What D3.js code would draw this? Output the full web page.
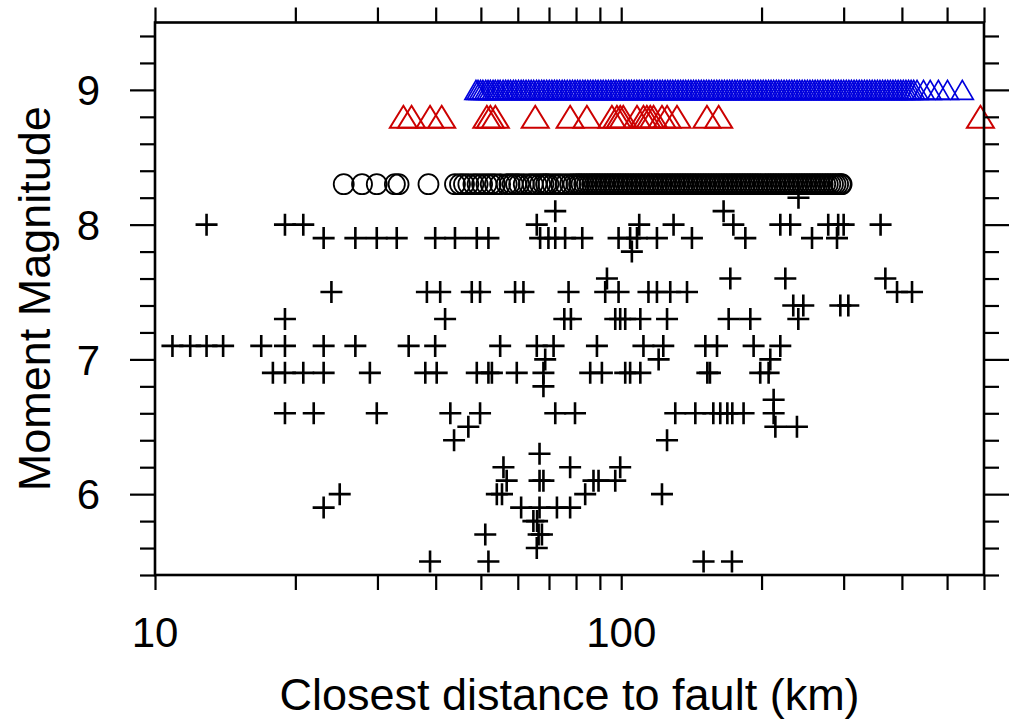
<!DOCTYPE html>
<html>
<head>
<meta charset="utf-8">
<script src="https://d3js.org/d3.v7.min.js"></script>
<style>
  body { margin: 0; background: #fff; }
  svg { display: block; font-family: "Liberation Sans", Arial, sans-serif; }
</style>
</head>
<body>
<svg width="1009" height="720"></svg>
<script>
// Distance (km) values per series
const blueDist = [48.8, 49.3, 49.9, 50.5, 51.2, 51.8, 52.4, 53.1, 53.7, 54.4, 55.0, 55.8, 56.5, 57.2,
  57.9, 58.7, 59.4, 60.2, 61.0, 61.7, 62.5, 63.3, 64.1, 64.9, 65.8, 66.6, 67.5, 68.3, 69.2, 70.1, 71.0,
  71.9, 72.8, 73.7, 74.7, 75.6, 76.6, 77.6, 78.6, 79.6, 80.6, 81.6, 82.7, 83.7, 84.8, 85.9, 87.0, 88.1,
  89.2, 90.4, 91.5, 92.7, 93.9, 95.1, 96.3, 97.5, 98.8, 100.0, 101.3, 102.6, 103.9, 105.2, 106.6, 108.0,
  109.3, 110.7, 112.2, 113.6, 115.0, 116.5, 118.0, 119.5, 121.1, 122.6, 124.2, 125.8, 127.4, 129.0,
  130.7, 132.4, 134.1, 135.8, 137.5, 139.3, 141.1, 142.9, 144.7, 146.6, 148.5, 150.4, 152.3, 154.2,
  156.2, 158.2, 160.3, 162.3, 164.4, 166.5, 168.7, 170.8, 173.0, 175.3, 177.5, 179.8, 182.1, 184.5,
  186.8, 189.2, 191.7, 194.1, 196.6, 199.2, 201.7, 204.3, 207.0, 209.6, 212.3, 215.1, 217.8, 220.6,
  223.5, 226.4, 229.3, 232.2, 235.2, 238.3, 241.3, 244.4, 247.6, 250.8, 254.0, 257.3, 260.6, 263.9,
  267.3, 270.8, 274.3, 277.8, 281.4, 285.0, 288.7, 292.4, 296.2, 300.0, 303.9, 307.8, 311.7, 315.8,
  319.8, 324.0, 328.1, 332.4, 336.7, 341.0, 345.4, 349.9, 354.4, 358.9, 363.6, 368.3, 373.0, 377.8,
  382.7, 387.6, 392.6, 397.7, 402.8, 408.0, 413.3, 418.6, 424.0, 431, 445, 460, 479, 501, 539];
const blueMag = 9.0;

const redDist = [34.1, 35.5, 38.9, 41.2, 51.5, 52.4, 53.7, 65.4, 77.7, 84.4, 95.5, 97.9, 99.5, 101,
  108.1, 111.6, 113.5, 115.4, 117.3, 122.3, 125.4, 131.7, 152.7, 161.8, 589.5];
const redMag = 8.8;

const circDist = [25.4, 27.8, 29.9, 32.7, 33.3, 38.6,
  44.0, 45.1, 46.0, 47.0, 48.2, 49.2, 50.3, 51.4, 52.5, 53.6, 55.0, 56.8, 57.6, 58.5, 59.5, 60.4, 61.8,
  63.4, 64.6, 65.8, 67.0, 68.1, 69.0, 69.8, 71.3, 72.8, 74.3, 76.0, 77.7, 79.0, 80.2, 81.2, 82.2, 83.3,
  84.4, 85.5, 86.6, 87.7, 88.8, 89.9, 91.1, 92.3, 93.5, 94.7, 95.9, 97.1, 98.4, 99.6, 100.9, 102.2,
  103.5, 104.9, 106.2, 107.6, 109.0, 110.4, 111.8, 113.2, 114.7, 116.2, 117.7, 119.2, 120.7, 122.3,
  123.9, 125.5, 127.1, 128.7, 130.4, 132.1, 133.8, 135.5, 137.2, 139.0, 140.8, 142.6, 144.4, 146.3,
  148.2, 150.1, 152.0, 154.0, 156.0, 158.0, 160.0, 162.1, 164.2, 166.3, 168.4, 170.6, 172.8, 175.0,
  177.3, 179.6, 181.9, 184.2, 186.6, 189.0, 191.4, 193.9, 196.4, 198.9, 201.5, 204.1, 206.7, 209.4,
  212.1, 214.8, 217.6, 220.4, 223.2, 226.1, 229.0, 231.9, 234.9, 237.9, 241.0, 244.1, 247.2, 250.4,
  253.6, 256.9, 260.2, 263.5, 266.9, 270.4, 273.9, 277.4, 280.9, 284.6, 288.2, 291.9, 295.7, 297];
const circMag = 8.3;

const plusDist = [240, 72.2, 165.8,
  12.9, 19.0, 20.8, 65.9, 109.3, 129.5, 174, 219.4, 230.5, 278, 292, 300, 360,
  23.0, 26.9, 29.9, 33.0, 39.9, 44.0, 49.0, 51.9, 67.0, 69.8, 72.2, 75.8, 82.5, 98.7, 104.5, 108.1,
  119.3, 141.8, 184.6, 256.6, 290.3,
  105.4,
  93.2, 171.4, 224.9, 368.6,
  23.9, 38.3, 40.9, 47.8, 49.8, 59.2, 61.7, 77.1, 92.4, 98.7, 114.4, 119.3, 127.4, 138.4, 390.5, 420.5,
  233.9, 245.8, 295.1, 307,
  19.0, 41.9, 75.5, 78.0, 97.1, 99.5, 102, 109.9, 125.4, 170, 189.2, 239.8,
  10.9, 11.9, 12.9, 14.0, 16.9, 19.0, 23.0, 26.9, 35.0, 39.9, 55.0, 65.9, 71.6, 88.7, 111.6, 123.1,
  151.5, 160.5, 192.3, 219.4,
  68.7, 120.3, 208.8,
  17.9, 19.0, 20.8, 23.0, 28.9, 38.0, 40.2, 49.0, 51.9, 52.8, 59.7, 68.1, 85.8, 90.9, 102, 104.5,
  109.9, 153, 155, 198.7, 207.1,
  68.1,
  212.3,
  19.0, 21.9, 29.9, 43.0, 49.8, 72.2, 79.6, 130.6, 144.2, 157.6, 163.1, 168.9, 173.1, 183.0, 212.3,
  47.0, 214.1, 238.2,
  43.8, 125.4,
  66.8,
  55.9, 77.7, 99.5,
  56.8, 66.8, 68.1, 87.2, 89.4, 97.1,
  24.9, 54.1, 55.5, 83.7, 122.3,
  23.0, 61.0, 66.8, 72.8, 77.7,
  64.8, 66.0,
  51.1, 66.5, 67.6,
  65.9,
  38.9, 51.9, 150.2, 172.8];
const plusMag = [8.2, 8.1, 8.1,
  8.0, 8.0, 8.0, 8.0, 8.0, 8.0, 8.0, 8.0, 8.0, 8.0, 8.0, 8.0, 8.0,
  7.9, 7.9, 7.9, 7.9, 7.9, 7.9, 7.9, 7.9, 7.9, 7.9, 7.9, 7.9, 7.9, 7.9, 7.9, 7.9,
  7.9, 7.9, 7.9, 7.9, 7.9,
  7.8,
  7.6, 7.6, 7.6, 7.6,
  7.5, 7.5, 7.5, 7.5, 7.5, 7.5, 7.5, 7.5, 7.5, 7.5, 7.5, 7.5, 7.5, 7.5, 7.5, 7.5,
  7.4, 7.4, 7.4, 7.4,
  7.3, 7.3, 7.3, 7.3, 7.3, 7.3, 7.3, 7.3, 7.3, 7.3, 7.3, 7.3,
  7.1, 7.1, 7.1, 7.1, 7.1, 7.1, 7.1, 7.1, 7.1, 7.1, 7.1, 7.1, 7.1, 7.1, 7.1, 7.1,
  7.1, 7.1, 7.1, 7.1,
  7.0, 7.0, 7.0,
  6.9, 6.9, 6.9, 6.9, 6.9, 6.9, 6.9, 6.9, 6.9, 6.9, 6.9, 6.9, 6.9, 6.9, 6.9, 6.9,
  6.9, 6.9, 6.9, 6.9, 6.9,
  6.8,
  6.7,
  6.6, 6.6, 6.6, 6.6, 6.6, 6.6, 6.6, 6.6, 6.6, 6.6, 6.6, 6.6, 6.6, 6.6, 6.6,
  6.5, 6.5, 6.5,
  6.4, 6.4,
  6.3,
  6.2, 6.2, 6.2,
  6.1, 6.1, 6.1, 6.1, 6.1, 6.1,
  6.0, 6.0, 6.0, 6.0, 6.0,
  5.9, 5.9, 5.9, 5.9, 5.9,
  5.8, 5.8,
  5.7, 5.7, 5.7,
  5.6,
  5.5, 5.5, 5.5, 5.5];

const xMajor = [10, 100];
const xMinor = [20, 30, 40, 50, 60, 70, 80, 90, 200, 300, 400, 500, 600];
const yMajor = [6, 7, 8, 9];
const yMinor = [5.4, 5.6, 5.8, 6.2, 6.4, 6.6, 6.8, 7.2, 7.4, 7.6, 7.8, 8.2, 8.4, 8.6, 8.8, 9.2, 9.4];

const svg = d3.select("svg");
const pLeft = 155, pRight = 984, pTop = 22.5, pBottom = 575;

const x = d3.scaleLog().domain([10, 600]).range([pLeft, pRight]);
const y = d3.scaleLinear().domain([5.4, 9.5]).range([pBottom, pTop]);

// markers
const plus = svg.append("g").attr("class", "plus");
plusDist.forEach((d, i) => {
    plus.append("path")
        .attr("d", "M-11,0H11M0,-11V11")
        .attr("transform", "translate(" + x(d) + "," + y(plusMag[i]) + ")")
        .attr("stroke", "#000")
        .attr("stroke-width", 2.6)
        .attr("fill", "none");
});

svg.append("g").selectAll("circle")
    .data(circDist)
    .enter().append("circle")
    .attr("cx", d => x(d))
    .attr("cy", y(circMag))
    .attr("r", 10)
    .attr("fill", "none")
    .attr("stroke", "#000")
    .attr("stroke-width", 1.8);

svg.append("g").selectAll("path")
    .data(redDist)
    .enter().append("path")
    .attr("d", "M0,-11L13.5,11L-13.5,11Z")
    .attr("transform", d => "translate(" + x(d) + "," + y(redMag) + ")")
    .attr("fill", "none")
    .attr("stroke", "#cc0000")
    .attr("stroke-width", 2);

svg.append("g").selectAll("path")
    .data(blueDist)
    .enter().append("path")
    .attr("d", "M0,-9.5L11,9.5L-11,9.5Z")
    .attr("transform", d => "translate(" + x(d) + "," + y(blueMag) + ")")
    .attr("fill", "none")
    .attr("stroke", "#0000dd")
    .attr("stroke-width", 1.7);

// axes: frame with outward ticks on all four sides
const xTickVals = xMajor.concat(xMinor);
const axB = d3.axisBottom(x).tickValues(xTickVals).tickSize(15).tickFormat("");
const axT = d3.axisTop(x).tickValues(xTickVals).tickSize(15).tickFormat("");
const axL = d3.axisLeft(y).tickValues(yMinor).tickSize(15).tickFormat("");
const axR = d3.axisRight(y).tickValues(yMinor).tickSize(15).tickFormat("");
const axLM = d3.axisLeft(y).tickValues(yMajor).tickSize(25).tickFormat("");
const axRM = d3.axisRight(y).tickValues(yMajor).tickSize(25).tickFormat("");

const addAxis = (ax, tx, ty) => {
    const g = svg.append("g").attr("transform", "translate(" + tx + "," + ty + ")").call(ax);
    g.select(".domain").remove();
    g.selectAll("line").attr("stroke", "#000").attr("stroke-width", 2.2);
};
addAxis(axB, 0, pBottom);
addAxis(axT, 0, pTop);
addAxis(axL, pLeft, 0);
addAxis(axR, pRight, 0);
addAxis(axLM, pLeft, 0);
addAxis(axRM, pRight, 0);

svg.append("rect")
    .attr("x", pLeft).attr("y", pTop)
    .attr("width", pRight - pLeft).attr("height", pBottom - pTop)
    .attr("fill", "none")
    .attr("stroke", "#000")
    .attr("stroke-width", 2.6);

// tick labels
svg.append("g").selectAll("text")
    .data(xMajor)
    .enter().append("text")
    .attr("x", d => x(d))
    .attr("y", 647)
    .attr("text-anchor", "middle")
    .attr("font-size", 42)
    .text(d => d);

svg.append("g").selectAll("text")
    .data(yMajor)
    .enter().append("text")
    .attr("x", 100)
    .attr("y", d => y(d))
    .attr("dy", "0.36em")
    .attr("text-anchor", "end")
    .attr("font-size", 42)
    .text(d => d);

// titles
svg.append("text")
    .attr("x", (pLeft + pRight) / 2)
    .attr("y", 710)
    .attr("text-anchor", "middle")
    .attr("font-size", 45)
    .text("Closest distance to fault (km)");

svg.append("text")
    .attr("transform", "translate(50," + (pTop + pBottom) / 2 + ") rotate(-90)")
    .attr("text-anchor", "middle")
    .attr("font-size", 45)
    .text("Moment Magnitude");
</script>
</body>
</html>
